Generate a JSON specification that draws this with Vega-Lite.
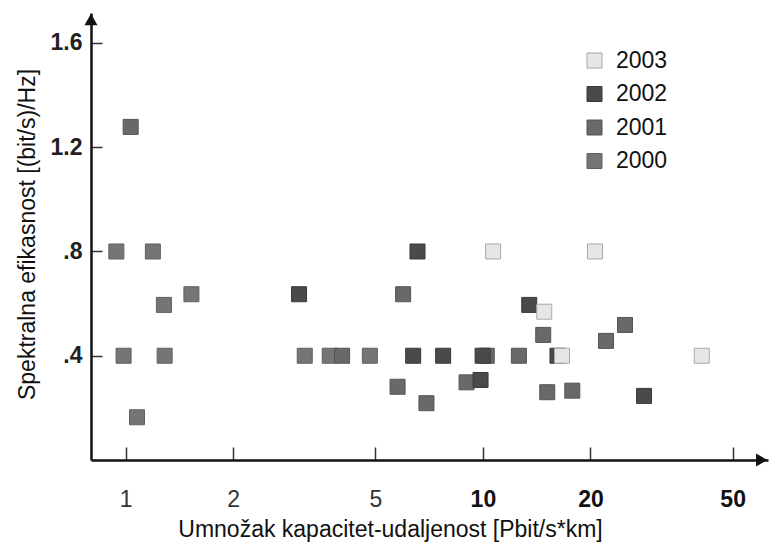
{
  "$schema": "https://vega.github.io/schema/vega-lite/v6.json",
  "width": 677,
  "height": 447,
  "autosize": {"type": "none"},
  "padding": {"left": 91, "top": 13, "right": 1, "bottom": 85},
  "background": "white",
  "config": {"view": {"stroke": null}, "font": "Liberation Sans"},
  "datasets": {
    "points": [
      {"x": 0.942, "y": 0.8, "year": "2000"},
      {"x": 1.192, "y": 0.8, "year": "2000"},
      {"x": 0.987, "y": 0.4, "year": "2000"},
      {"x": 1.286, "y": 0.4, "year": "2000"},
      {"x": 1.076, "y": 0.164, "year": "2000"},
      {"x": 1.28, "y": 0.595, "year": "2000"},
      {"x": 1.528, "y": 0.636, "year": "2000"},
      {"x": 3.172, "y": 0.4, "year": "2000"},
      {"x": 3.727, "y": 0.4, "year": "2000"},
      {"x": 4.826, "y": 0.4, "year": "2000"},
      {"x": 1.033, "y": 1.278, "year": "2001"},
      {"x": 4.036, "y": 0.4, "year": "2001"},
      {"x": 5.77, "y": 0.281, "year": "2001"},
      {"x": 5.98, "y": 0.636, "year": "2001"},
      {"x": 6.95, "y": 0.218, "year": "2001"},
      {"x": 9.0, "y": 0.298, "year": "2001"},
      {"x": 10.25, "y": 0.4, "year": "2001"},
      {"x": 12.61, "y": 0.4, "year": "2001"},
      {"x": 14.75, "y": 0.48, "year": "2001"},
      {"x": 15.14, "y": 0.26, "year": "2001"},
      {"x": 17.79, "y": 0.266, "year": "2001"},
      {"x": 22.11, "y": 0.457, "year": "2001"},
      {"x": 24.99, "y": 0.518, "year": "2001"},
      {"x": 3.058, "y": 0.636, "year": "2002"},
      {"x": 6.56, "y": 0.8, "year": "2002"},
      {"x": 6.38, "y": 0.4, "year": "2002"},
      {"x": 7.74, "y": 0.4, "year": "2002"},
      {"x": 9.98, "y": 0.4, "year": "2002"},
      {"x": 9.85, "y": 0.307, "year": "2002"},
      {"x": 13.48, "y": 0.595, "year": "2002"},
      {"x": 16.17, "y": 0.4, "year": "2002"},
      {"x": 28.25, "y": 0.246, "year": "2002"},
      {"x": 10.68, "y": 0.8, "year": "2003"},
      {"x": 20.59, "y": 0.8, "year": "2003"},
      {"x": 14.85, "y": 0.569, "year": "2003"},
      {"x": 16.65, "y": 0.4, "year": "2003"},
      {"x": 40.99, "y": 0.4, "year": "2003"}
    ],
    "arrows": [
      {"x": 0.8, "y": 1.69, "s": "triangle-up"},
      {"x": 60.3, "y": 0, "s": "triangle-right"}
    ]
  },
  "layer": [
    {
      "data": {"name": "points"},
      "mark": {"type": "point", "shape": "square", "filled": true, "opacity": 1, "size": 225, "strokeWidth": 1},
      "encoding": {
        "x": {
          "field": "x", "type": "quantitative",
          "scale": {"type": "log", "domain": [0.8, 62.8], "nice": false},
          "axis": {
            "values": [1, 2, 5, 10, 20, 50], "format": "~g",
            "grid": false, "tickSize": -13, "tickColor": "#333", "tickWidth": 1.5,
            "domainColor": "#111", "domainWidth": 2.5,
            "labelFontSize": 23, "labelPadding": 41,
            "labelColor": {"condition": {"test": "datum.value >= 10", "value": "#111"}, "value": "#333"},
            "labelFontWeight": {"condition": {"test": "datum.value >= 10", "value": "bold"}, "value": "normal"},
            "title": "Umnožak kapacitet-udaljenost [Pbit/s*km]",
            "titleFontSize": 23, "titleFontWeight": "normal", "titleColor": "#111",
            "titleX": 299, "titleY": 69, "titleBaseline": "middle"
          }
        },
        "y": {
          "field": "y", "type": "quantitative",
          "scale": {"domain": [0, 1.715], "nice": false, "zero": false},
          "axis": {
            "values": [0.4, 0.8, 1.2, 1.6],
            "labelExpr": "datum.value < 1 ? slice(format(datum.value, '.1f'), 1) : format(datum.value, '.1f')",
            "grid": false, "tickSize": -11, "tickColor": "#333", "tickWidth": 1.5,
            "domainColor": "#111", "domainWidth": 2.5,
            "labelFontSize": 23, "labelColor": "#222", "labelFontWeight": "bold", "labelPadding": 20,
            "title": "Spektralna efikasnost [(bit/s)/Hz]",
            "titleFontSize": 23, "titleFontWeight": "normal", "titleColor": "#111",
            "titleX": -64, "titleY": 221, "titleBaseline": "middle", "titleAlign": "center"
          }
        },
        "fill": {
          "field": "year", "type": "nominal",
          "scale": {"domain": ["2003", "2002", "2001", "2000"], "range": ["#e6e6e6", "#4a4a4a", "#696969", "#757575"]},
          "legend": {
            "orient": "none", "legendX": 492, "legendY": 36, "title": null,
            "symbolType": "square", "symbolSize": 225, "symbolStrokeWidth": 1,
            "labelFontSize": 23, "labelColor": "#111", "labelOffset": 10, "rowPadding": 9.5
          }
        },
        "stroke": {
          "field": "year", "type": "nominal",
          "scale": {"domain": ["2003", "2002", "2001", "2000"], "range": ["#a8a8a8", "#3a3a3a", "#555555", "#606060"]},
          "legend": {
            "orient": "none", "legendX": 492, "legendY": 36, "title": null,
            "symbolType": "square", "symbolSize": 225, "symbolStrokeWidth": 1,
            "labelFontSize": 23, "labelColor": "#111", "labelOffset": 10, "rowPadding": 9.5
          }
        }
      }
    },
    {
      "data": {"name": "arrows"},
      "mark": {"type": "point", "filled": true, "opacity": 1, "size": 170, "color": "#111"},
      "encoding": {
        "x": {"field": "x", "type": "quantitative"},
        "y": {"field": "y", "type": "quantitative"},
        "shape": {"field": "s", "type": "nominal", "scale": null}
      }
    }
  ]
}
